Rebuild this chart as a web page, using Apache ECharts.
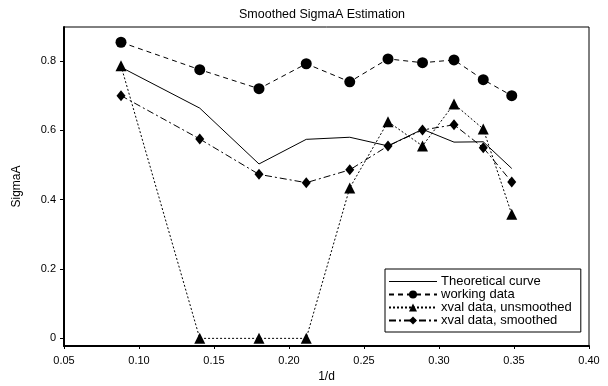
<!DOCTYPE html>
<html><head><meta charset="utf-8">
<script src="https://cdn.jsdelivr.net/npm/echarts@6/dist/echarts.min.js"></script>
<style>html,body{margin:0;padding:0;background:#fff}#c{width:608px;height:386px}</style>
</head><body><div id="c"></div>
<script>
const xValues = [0.088, 0.1405, 0.18, 0.2115, 0.2405, 0.266, 0.289, 0.31, 0.3295, 0.3485];
const theoretical = [0.782, 0.664, 0.503, 0.574, 0.580, 0.555, 0.603, 0.566, 0.567, 0.490];
const working = [0.854, 0.775, 0.720, 0.792, 0.740, 0.806, 0.795, 0.803, 0.746, 0.700];
const unsmoothed = [0.786, 0, 0, 0, 0.434, 0.625, 0.555, 0.676, 0.604, 0.358];
const smoothed = [0.700, 0.575, 0.473, 0.449, 0.486, 0.555, 0.601, 0.616, 0.550, 0.451];
const xTicks = [0.05, 0.10, 0.15, 0.20, 0.25, 0.30, 0.35, 0.40];
const yTicks = [0, 0.2, 0.4, 0.6, 0.8];
const names = ['Theoretical curve', 'working data', 'xval data, unsmoothed', 'xval data, smoothed'];

const pair = arr => xValues.map((x, i) => [x, arr[i]]);
const font = 'Liberation Sans, Arial, sans-serif';
const chart = echarts.init(document.getElementById('c'));
const base = { type: 'line', color: '#000', animation: false, z: 3 };
chart.setOption({
  backgroundColor: '#fff',
  title: { text: 'Smoothed SigmaA Estimation', left: 234, top: 3,
    textStyle: { fontFamily: font, fontSize: 12.5, fontWeight: 'normal', color: '#000' } },
  grid: { left: 64, right: 19, top: 27, bottom: 40, show: true, borderColor: '#000', borderWidth: 1,
    outerBoundsMode: 'none', containLabel: false },
  legend: {
    left: 385, top: 269, orient: 'vertical', itemWidth: 48, itemHeight: 10, itemGap: 0,
    padding: [6, 9, 5, 3], borderColor: '#000', borderWidth: 1, backgroundColor: '#fff',
    textStyle: { fontFamily: font, fontSize: 13, lineHeight: 13, color: '#000', padding: [0, 0, 0, -1] },
    data: [
      { name: names[0], icon: 'path://M0,0H100V2H0Z' },
      names[1], names[2], names[3]
    ]
  },
  xAxis: {
    type: 'value', min: 0.05, max: 0.4, interval: 0.05,
    name: '1/d', nameLocation: 'middle', nameGap: 25,
    nameTextStyle: { fontFamily: font, fontSize: 12, color: '#000' },
    axisLine: { onZero: false, lineStyle: { color: '#000', width: 2 } },
    axisTick: { show: true, length: 3, lineStyle: { color: '#000' }, customValues: xTicks },
    axisLabel: { fontFamily: font, fontSize: 11, color: '#000', margin: 9, customValues: xTicks,
      formatter: v => v.toFixed(2) },
    splitLine: { show: false }
  },
  yAxis: {
    type: 'value', min: -0.022, max: 0.898,
    name: 'SigmaA', nameLocation: 'middle', nameGap: 41,
    nameTextStyle: { fontFamily: font, fontSize: 12, color: '#000' },
    axisLine: { onZero: false, lineStyle: { color: '#000', width: 2 } },
    axisTick: { show: true, length: 4, lineStyle: { color: '#000' }, customValues: yTicks },
    axisLabel: { fontFamily: font, fontSize: 11, color: '#000', margin: 8, customValues: yTicks,
      formatter: v => (v === 0 ? '0' : v.toFixed(1)) },
    splitLine: { show: false }
  },
  series: [
    Object.assign({}, base, { name: names[0], data: pair(theoretical), showSymbol: false, symbol: 'none',
      lineStyle: { width: 1, color: '#000', type: 'solid' } }),
    Object.assign({}, base, { name: names[1], data: pair(working), symbol: 'circle', symbolSize: 11,
      itemStyle: { color: '#000' }, lineStyle: { width: 1, color: '#000', type: [5, 4] } }),
    Object.assign({}, base, { name: names[2], data: pair(unsmoothed), symbol: 'triangle', symbolSize: 11,
      itemStyle: { color: '#000' }, lineStyle: { width: 1, color: '#000', type: [2, 2] } }),
    Object.assign({}, base, { name: names[3], data: pair(smoothed), symbol: 'diamond', symbolSize: [9, 11],
      itemStyle: { color: '#000' }, lineStyle: { width: 1, color: '#000', type: [7, 3, 2, 3] } })
  ]
});
</script></body></html>
